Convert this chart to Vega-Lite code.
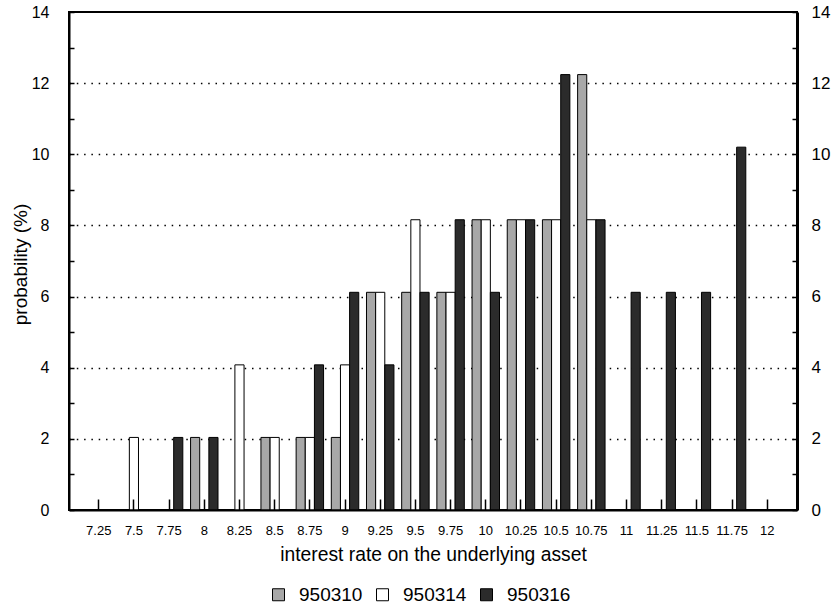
{
  "$schema": "https://vega.github.io/schema/vega-lite/v6.json",
  "width": 728,
  "height": 498,
  "autosize": {"type": "none"},
  "padding": {"left": 69, "top": 12, "right": 34, "bottom": 98},
  "background": "white",
  "config": {
    "font": "Liberation Sans",
    "view": {"stroke": "black", "strokeWidth": 2},
    "axis": {"domainColor": "black", "tickColor": "black", "labelColor": "black", "titleColor": "black", "titleFontWeight": "normal"}
  },
  "data": {
    "values": [
      {"rate": "8", "series": "950310", "p": 2.04},
      {"rate": "8.5", "series": "950310", "p": 2.04},
      {"rate": "8.75", "series": "950310", "p": 2.04},
      {"rate": "9", "series": "950310", "p": 2.04},
      {"rate": "9.25", "series": "950310", "p": 6.12},
      {"rate": "9.5", "series": "950310", "p": 6.12},
      {"rate": "9.75", "series": "950310", "p": 6.12},
      {"rate": "10", "series": "950310", "p": 8.16},
      {"rate": "10.25", "series": "950310", "p": 8.16},
      {"rate": "10.5", "series": "950310", "p": 8.16},
      {"rate": "10.75", "series": "950310", "p": 12.24},
      {"rate": "7.5", "series": "950314", "p": 2.04},
      {"rate": "8.25", "series": "950314", "p": 4.08},
      {"rate": "8.5", "series": "950314", "p": 2.04},
      {"rate": "8.75", "series": "950314", "p": 2.04},
      {"rate": "9", "series": "950314", "p": 4.08},
      {"rate": "9.25", "series": "950314", "p": 6.12},
      {"rate": "9.5", "series": "950314", "p": 8.16},
      {"rate": "9.75", "series": "950314", "p": 6.12},
      {"rate": "10", "series": "950314", "p": 8.16},
      {"rate": "10.25", "series": "950314", "p": 8.16},
      {"rate": "10.5", "series": "950314", "p": 8.16},
      {"rate": "10.75", "series": "950314", "p": 8.16},
      {"rate": "7.75", "series": "950316", "p": 2.04},
      {"rate": "8", "series": "950316", "p": 2.04},
      {"rate": "8.75", "series": "950316", "p": 4.08},
      {"rate": "9", "series": "950316", "p": 6.12},
      {"rate": "9.25", "series": "950316", "p": 4.08},
      {"rate": "9.5", "series": "950316", "p": 6.12},
      {"rate": "9.75", "series": "950316", "p": 8.16},
      {"rate": "10", "series": "950316", "p": 6.12},
      {"rate": "10.25", "series": "950316", "p": 8.16},
      {"rate": "10.5", "series": "950316", "p": 12.24},
      {"rate": "10.75", "series": "950316", "p": 8.16},
      {"rate": "11", "series": "950316", "p": 6.12},
      {"rate": "11.25", "series": "950316", "p": 6.12},
      {"rate": "11.5", "series": "950316", "p": 6.12},
      {"rate": "11.75", "series": "950316", "p": 10.2}
    ]
  },
  "encoding": {
    "x": {
      "field": "rate", "type": "nominal",
      "scale": {"domain": ["7.25","7.5","7.75","8","8.25","8.5","8.75","9","9.25","9.5","9.75","10","10.25","10.5","10.75","11","11.25","11.5","11.75","12"], "paddingInner": 0.22, "paddingOuter": 0.455},
      "axis": {"title": "interest rate on the underlying asset", "titleFontSize": 19.3, "titleY": 35, "labelAngle": 0, "labelFontSize": 13, "labelPadding": 25, "tickSize": -11, "tickWidth": 1.5, "domainWidth": 2, "zindex": 1}
    }
  },
  "layer": [
    {
      "mark": {"type": "bar", "stroke": "black", "strokeWidth": 1},
      "encoding": {
        "xOffset": {"field": "series", "type": "nominal", "scale": {"domain": ["950310","950314","950316"], "paddingInner": 0, "paddingOuter": 0}},
        "y": {
          "field": "p", "type": "quantitative",
          "scale": {"domain": [0, 14], "nice": false},
          "axis": {
            "values": [0,1,2,3,4,5,6,7,8,9,10,11,12,13,14],
            "labelExpr": "datum.value % 2 === 0 ? datum.label : ''",
            "tickSize": -5, "tickWidth": 1.5, "labelPadding": 25, "labelFontSize": 16,
            "domainWidth": 2,
            "grid": true, "gridColor": "black", "gridDash": [1.5, 5.8], "gridWidth": 1.3,
            "gridOpacity": {"condition": {"test": "datum.value % 2 === 0 && datum.value > 0 && datum.value < 14", "value": 1}, "value": 0},
            "title": "probability (%)", "titleFontSize": 19, "titleX": -49, "titleY": 252, "titleAngle": -90, "titleBaseline": "middle", "titleAlign": "center"
          }
        },
        "fill": {
          "field": "series", "type": "nominal",
          "scale": {"domain": ["950310","950314","950316"], "range": ["#a8a8a8", "#ffffff", "#2b2b2b"]},
          "legend": {"orient": "none", "legendX": 200, "legendY": 573, "direction": "horizontal", "title": null, "symbolType": "square", "symbolSize": 144, "symbolStrokeColor": "black", "symbolStrokeWidth": 1, "labelFontSize": 19, "labelColor": "black", "columnPadding": 10, "labelOffset": 11}
        }
      }
    },
    {
      "mark": {"type": "tick", "opacity": 0},
      "encoding": {
        "y": {
          "field": "p", "type": "quantitative",
          "scale": {"domain": [0, 14], "nice": false},
          "axis": {
            "orient": "right",
            "values": [0,1,2,3,4,5,6,7,8,9,10,11,12,13,14],
            "labelExpr": "datum.value % 2 === 0 ? datum.label : ''",
            "tickSize": -5, "tickWidth": 1.5, "labelPadding": 19, "labelFontSize": 17,
            "domainWidth": 3, "grid": false, "title": null
          }
        }
      }
    }
  ],
  "resolve": {"scale": {"y": "independent"}, "axis": {"y": "independent"}}
}
